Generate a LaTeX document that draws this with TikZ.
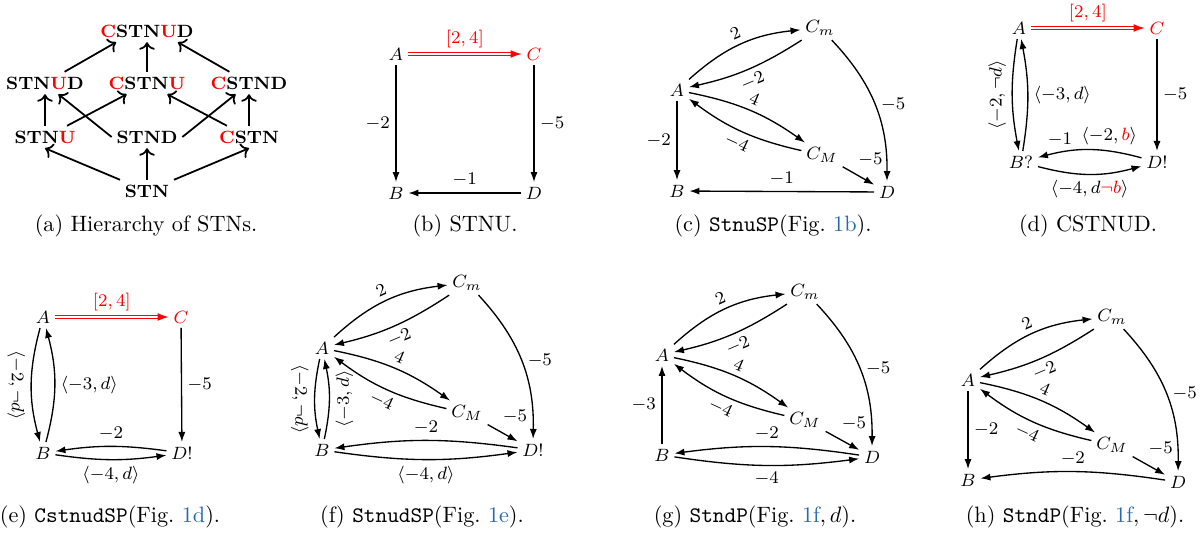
\documentclass[tikz,border=0pt]{standalone}
\usepackage{amsmath}
\usepackage{amssymb}
\usetikzlibrary{arrows.meta}
\definecolor{refblue}{RGB}{38,105,175}
\tikzset{
  cls/.style={font=\footnotesize\bfseries, inner sep=2pt},
  ev/.style={font=\footnotesize, inner sep=2pt},
  lbl/.style={font=\footnotesize, inner sep=2.5pt},
  up/.style={->, thick},
  arc/.style={-{Latex[length=4.5pt, width=3.2pt]}, semithick},
  ctg/.style={red, semithick, double, double distance=0.7pt, -{Latex[length=5pt, width=3.5pt]}},
  subcap/.style={anchor=base}
}
\begin{document}
\begin{tikzpicture}[x=0.45pt, y=0.45pt]
\useasboundingbox (0,0) rectangle (1203,-536);

% (a) hierarchy
\node[cls] (top) at (147,-31) {\textcolor{red}{C}STN\textcolor{red}{U}D};
\node[cls] (stnud) at (45,-83) {STN\textcolor{red}{U}D};
\node[cls] (cstnu) at (147,-83) {\textcolor{red}{C}STN\textcolor{red}{U}};
\node[cls] (cstnd) at (249,-83) {\textcolor{red}{C}STND};
\node[cls] (stnu) at (45,-137) {STN\textcolor{red}{U}};
\node[cls] (stnd) at (147,-137) {STND};
\node[cls] (cstn) at (249,-137) {\textcolor{red}{C}STN};
\node[cls] (stn) at (147,-191) {STN};
\draw[up] (stn.north west) -- (stnu.south);
\draw[up] (stn) -- (stnd);
\draw[up] (stn.north east) -- (cstn.south);
\draw[up] (stnu) -- (stnud);
\draw[up] (stnu.27) -- (cstnu.209);
\draw[up] (stnd.west) -- (stnud.-40);
\draw[up] (stnd.east) -- (cstnd.220);
\draw[up] (cstn.153) -- (cstnu.-29);
\draw[up] (cstn) -- (cstnd);
\draw[up] (stnud) -- (top.200);
\draw[up] (cstnu) -- (top);
\draw[up] (cstnd) -- (top.-20);
\node[subcap] (capa) at (146,-231.5) {(a) Hierarchy of STNs.};

% (b) STNU
\begin{scope}[shift={(396,-54)}]
  \node[ev] (bA) at (0,0) {$A$};
  \node[ev, text=red] (bC) at (138,0) {$C$};
  \node[ev] (bB) at (0,-139) {$B$};
  \node[ev] (bD) at (138,-139) {$D$};
  \draw[ctg] (bA) -- node[lbl, red, above] {$[2,4]$} (bC);
  \draw[arc] (bA) -- node[lbl, left] {$-2$} (bB);
  \draw[arc] (bC) -- node[lbl, right] {$-5$} (bD);
  \draw[arc] (bD) -- node[lbl, above] {$-1$} (bB);
\end{scope}
\node[subcap] (capb) at (465,-231.5) {(b) STNU.};

% (c) StnuSP
\begin{scope}[shift={(677,-90)}]
  \node[ev] (cA) at (0,0) {$A$};
  \node[ev] (cCm) at (143,62) {$C_m$};
  \node[ev] (cCM) at (145,-65) {$C_M$};
  \node[ev] (cB) at (0,-101) {$B$};
  \node[ev] (cD) at (210,-102) {$D$};
  \draw[arc] (cA) to[bend left=18] node[lbl, above, sloped] {$2$} (cCm);
  \draw[arc] (cCm) to[bend left=10] node[lbl, below, sloped] {$-2$} (cA);
  \draw[arc] (cA) to[bend left=12] node[lbl, above, sloped] {$4$} (cCM);
  \draw[arc] (cCM) to[bend left=12] node[lbl, below, sloped] {$-4$} (cA);
  \draw[arc] (cCm) to[bend left=22] node[lbl, right] {$-5$} (cD);
  \draw[arc] (cCM) -- node[lbl, above right, pos=0.3] {$-5$} (cD);
  \draw[arc] (cA) -- node[lbl, left] {$-2$} (cB);
  \draw[arc] (cD) -- node[lbl, above] {$-1$} (cB);
\end{scope}
\node[subcap] (capc) at (773,-231.5) {(c) \texttt{StnuSP}(Fig.~\textcolor{refblue}{1b}).};

% (d) CSTNUD
\begin{scope}[shift={(1019,-28)}]
  \node[ev] (dA) at (0,0) {$A$};
  \node[ev, text=red] (dC) at (138,0) {$C$};
  \node[ev] (dB) at (2,-134) {$B?$};
  \node[ev] (dD) at (138,-134) {$D!$};
  \draw[ctg] (dA) -- node[lbl, red, above] {$[2,4]$} (dC);
  \draw[arc] (dA) to[bend right=10] node[lbl, anchor=south, rotate=90] {$\langle -2, \neg d\rangle$} (dB);
  \draw[arc] (dB) to[bend right=10] node[lbl, right] {$\langle -3, d\rangle$} (dA);
  \draw[arc] (dC) -- node[lbl, right] {$-5$} (dD);
  \draw[arc] (dD) to[bend right=15] node[lbl, above, pos=0.8] {$-1$} node[lbl, above, pos=0.3] {$\langle -2, \textcolor{red}{b}\rangle$} (dB);
  \draw[arc] (dB) to[bend right=15] node[lbl, below] {$\langle -4, d\textcolor{red}{\neg b}\rangle$} (dD);
\end{scope}
\node[subcap] (capd) at (1088,-231.5) {(d) CSTNUD.};

% (e) CstnudSP
\begin{scope}[shift={(43,-317)}]
  \node[ev] (eA) at (0,0) {$A$};
  \node[ev, text=red] (eC) at (138,0) {$C$};
  \node[ev] (eB) at (0,-136) {$B$};
  \node[ev] (eD) at (139,-136) {$D!$};
  \draw[ctg] (eA) -- node[lbl, red, above] {$[2,4]$} (eC);
  \draw[arc] (eA) to[bend right=15] node[lbl, anchor=north, rotate=-90] {$\langle -2, \neg d\rangle$} (eB);
  \draw[arc] (eB) to[bend right=15] node[lbl, right] {$\langle -3, d\rangle$} (eA);
  \draw[arc] (eC) -- node[lbl, right] {$-5$} (eD);
  \draw[arc] (eD) to[bend right=8] node[lbl, above] {$-2$} (eB);
  \draw[arc] (eB) to[bend right=8] node[lbl, below] {$\langle -4, d\rangle$} (eD);
\end{scope}
\node[subcap] (cape) at (110,-522.5) {(e) \texttt{CstnudSP}(Fig.~\textcolor{refblue}{1d}).};

% (f) StnudSP
\begin{scope}[shift={(322,-348)}]
  \node[ev] (fA) at (0,0) {$A$};
  \node[ev] (fCm) at (145,65) {$C_m$};
  \node[ev] (fCM) at (145,-65) {$C_M$};
  \node[ev] (fB) at (0,-102) {$B$};
  \node[ev] (fD) at (211,-102) {$D!$};
  \draw[arc] (fA) to[bend left=18] node[lbl, above, sloped] {$2$} (fCm);
  \draw[arc] (fCm) to[bend left=10] node[lbl, below, sloped] {$-2$} (fA);
  \draw[arc] (fA) to[bend left=12] node[lbl, above, sloped] {$4$} (fCM);
  \draw[arc] (fCM) to[bend left=12] node[lbl, below, sloped] {$-4$} (fA);
  \draw[arc] (fCm) to[bend left=22] node[lbl, right] {$-5$} (fD);
  \draw[arc] (fCM) -- node[lbl, above right, pos=0.3] {$-5$} (fD);
  \draw[arc] (fA) to[bend right=12] node[lbl, anchor=north, rotate=-90] {$\langle -2, \neg d\rangle$} (fB);
  \draw[arc] (fB) to[bend right=12] node[lbl, anchor=north, rotate=90] {$\langle -3, d\rangle$} (fA);
  \draw[arc] (fD) to[bend right=8] node[lbl, above] {$-2$} (fB);
  \draw[arc] (fB) to[bend right=8] node[lbl, below] {$\langle -4, d\rangle$} (fD);
\end{scope}
\node[subcap] (capf) at (422,-522.5) {(f) \texttt{StnudSP}(Fig.~\textcolor{refblue}{1e}).};

% (g) StndP, d
\begin{scope}[shift={(662,-355)}]
  \node[ev] (gA) at (0,0) {$A$};
  \node[ev] (gCm) at (143,63) {$C_m$};
  \node[ev] (gCM) at (143,-65) {$C_M$};
  \node[ev] (gB) at (0,-100) {$B$};
  \node[ev] (gD) at (210,-102) {$D$};
  \draw[arc] (gA) to[bend left=18] node[lbl, above, sloped] {$2$} (gCm);
  \draw[arc] (gCm) to[bend left=10] node[lbl, below, sloped] {$-2$} (gA);
  \draw[arc] (gA) to[bend left=12] node[lbl, above, sloped] {$4$} (gCM);
  \draw[arc] (gCM) to[bend left=12] node[lbl, below, sloped] {$-4$} (gA);
  \draw[arc] (gCm) to[bend left=22] node[lbl, right] {$-5$} (gD);
  \draw[arc] (gCM) -- node[lbl, above right, pos=0.3] {$-5$} (gD);
  \draw[arc] (gB) -- node[lbl, left] {$-3$} (gA);
  \draw[arc] (gD) to[bend right=8] node[lbl, above] {$-2$} (gB);
  \draw[arc] (gB) to[bend right=8] node[lbl, below] {$-4$} (gD);
\end{scope}
\node[subcap] (capg) at (755,-522.5) {(g) \texttt{StndP}(Fig.~\textcolor{refblue}{1f}$, d$).};

% (h) StndP, not d
\begin{scope}[shift={(968,-380)}]
  \node[ev] (hA) at (0,0) {$A$};
  \node[ev] (hCm) at (144,63) {$C_m$};
  \node[ev] (hCM) at (144,-65) {$C_M$};
  \node[ev] (hB) at (0,-100) {$B$};
  \node[ev] (hD) at (210,-102) {$D$};
  \draw[arc] (hA) to[bend left=18] node[lbl, above, sloped] {$2$} (hCm);
  \draw[arc] (hCm) to[bend left=10] node[lbl, below, sloped] {$-2$} (hA);
  \draw[arc] (hA) to[bend left=12] node[lbl, above, sloped] {$4$} (hCM);
  \draw[arc] (hCM) to[bend left=12] node[lbl, below, sloped] {$-4$} (hA);
  \draw[arc] (hCm) to[bend left=22] node[lbl, right] {$-5$} (hD);
  \draw[arc] (hCM) -- node[lbl, above right, pos=0.3] {$-5$} (hD);
  \draw[arc] (hA) -- node[lbl, right] {$-2$} (hB);
  \draw[arc] (hD) to[bend right=8] node[lbl, above] {$-2$} (hB);
\end{scope}
\node[subcap] (caph) at (1075,-522.5) {(h) \texttt{StndP}(Fig.~\textcolor{refblue}{1f}$, \neg d$).};
\end{tikzpicture}
\end{document}
